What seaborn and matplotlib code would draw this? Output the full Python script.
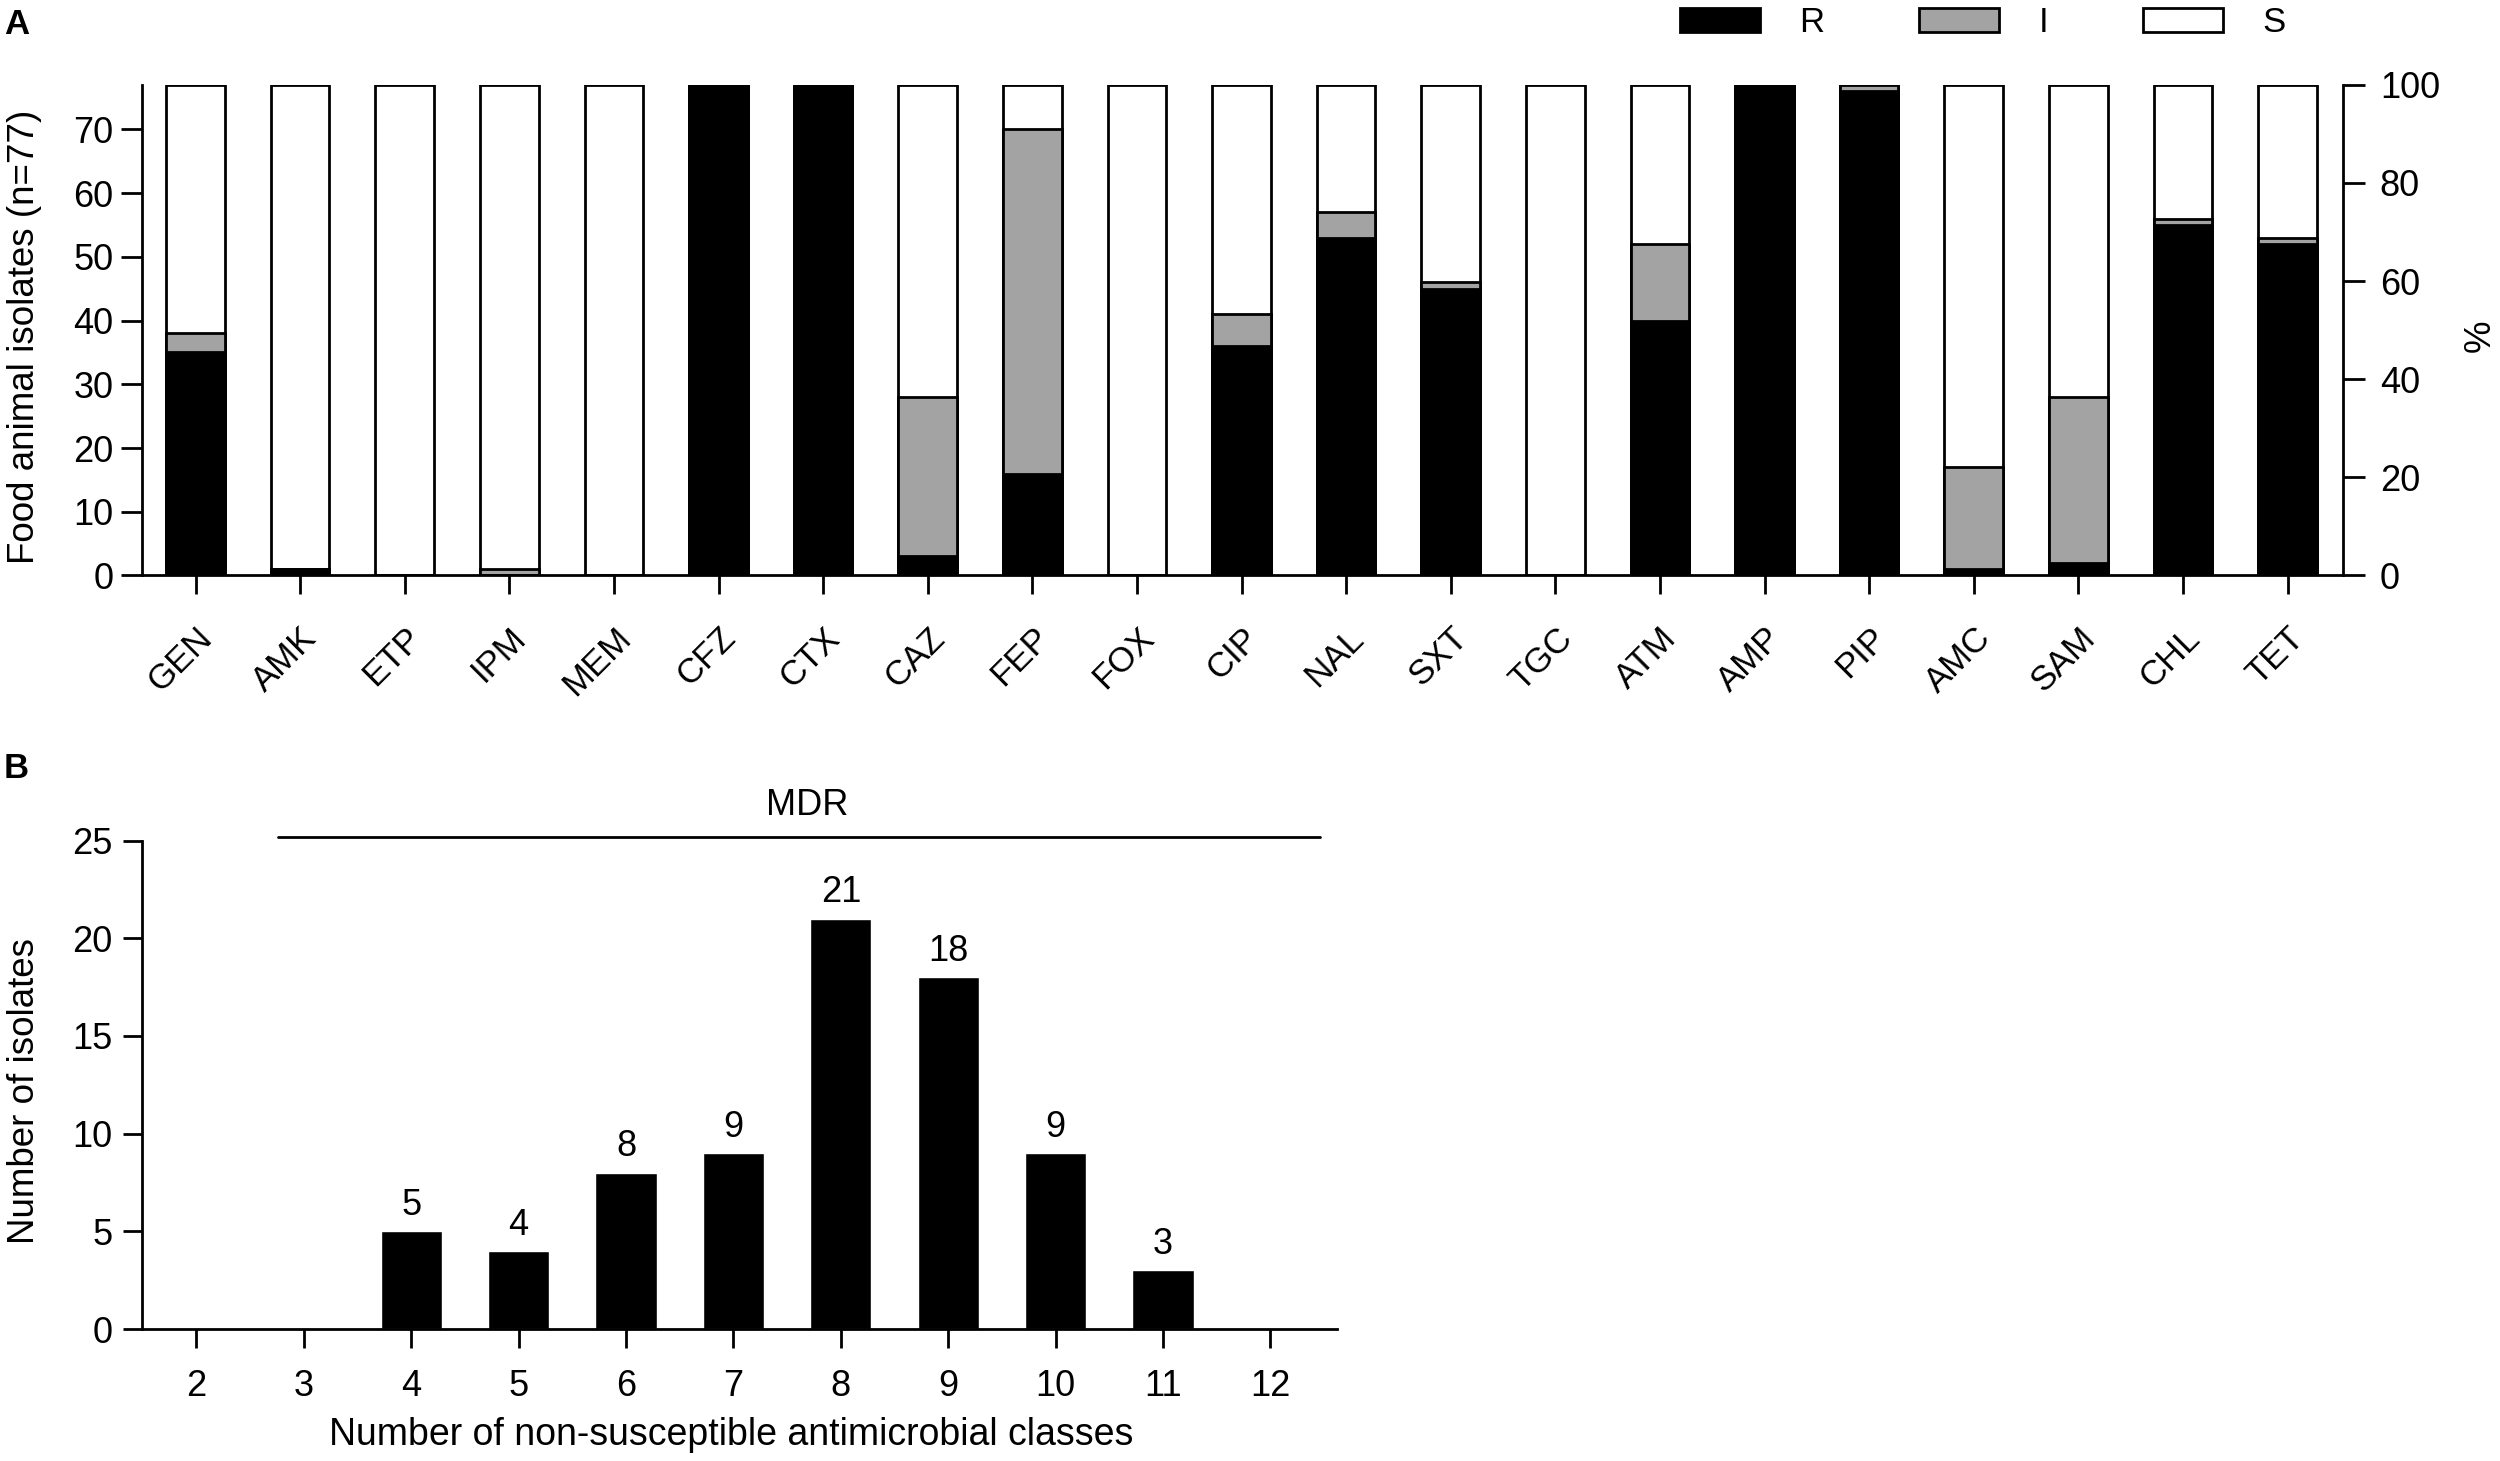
import matplotlib
matplotlib.use('Agg')
import pandas as pd
import matplotlib.pyplot as plt
from matplotlib.patches import Patch
import seaborn as sns

# panel A: isolates per drug (n=77), resistant / intermediate / susceptible
drugs = ['GEN', 'AMK', 'ETP', 'IPM', 'MEM', 'CFZ', 'CTX', 'CAZ', 'FEP', 'FOX', 'CIP',
         'NAL', 'SXT', 'TGC', 'ATM', 'AMP', 'PIP', 'AMC', 'SAM', 'CHL', 'TET']
resistant = [35, 1, 0, 0, 0, 77, 77, 3, 16, 0, 36, 53, 45, 0, 40, 77, 76, 1, 2, 55, 52]
intermediate = [3, 0, 0, 1, 0, 0, 0, 25, 54, 0, 5, 4, 1, 0, 12, 0, 1, 16, 26, 1, 1]
susceptible = [39, 76, 77, 76, 77, 0, 0, 49, 7, 77, 36, 20, 31, 77, 25, 0, 0, 60, 49, 21, 24]
n_isolates = 77

# panel B: distribution of non-susceptible classes
classes = ['2', '3', '4', '5', '6', '7', '8', '9', '10', '11', '12']
isolates = [0, 0, 5, 4, 8, 9, 21, 18, 9, 3, 0]

GREY = '#a3a3a3'
TICK_FS = 26

sns.set_style('ticks', {'axes.edgecolor': 'black', 'xtick.color': 'black',
                        'ytick.color': 'black', 'text.color': 'black',
                        'axes.labelcolor': 'black'})
plt.rcParams['font.family'] = ['Liberation Sans', 'DejaVu Sans']
plt.rcParams['axes.linewidth'] = 2

fig = plt.figure(figsize=(25, 14.61), dpi=100)

# ---- A ----
ax = fig.add_axes([0.0568, 0.6061, 0.8804, 0.3359])
df = pd.DataFrame({'drug': drugs, 'R': resistant, 'I': intermediate, 'S': susceptible})
df['RI'] = df['R'] + df['I']
df['RIS'] = df['RI'] + df['S']

# stacked look: full bar first, then R+I, then R on top
bar_kw = dict(x='drug', width=0.56, saturation=1, edgecolor='black',
              linewidth=2, errorbar=None, ax=ax)
sns.barplot(data=df, y='RIS', color='white', **bar_kw)
sns.barplot(data=df, y='RI', color=GREY, **bar_kw)
sns.barplot(data=df, y='R', color='black', **bar_kw)

ax.set_xlim(-0.512, 20.53)
ax.set_ylim(0, n_isolates)
ax.set_yticks(range(0, 71, 10))
ax.set_xlabel('')
ax.set_ylabel('Food animal isolates (n=77)', fontsize=26.5, va='center')
ax.yaxis.set_label_coords(-0.0532, 0.486)
sns.despine(ax=ax)
ax.tick_params(axis='y', length=15, width=2, labelsize=TICK_FS, pad=5.5)
ax.tick_params(axis='x', length=14, width=2, labelsize=TICK_FS - 1, pad=19)
plt.setp(ax.get_xticklabels(), rotation=45, ha='right', rotation_mode='anchor')

ax2 = ax.twinx()
ax2.set_ylim(0, 100)
ax2.set_yticks(range(0, 101, 20))
for s in ['top', 'left', 'bottom']:
    ax2.spines[s].set_visible(False)
ax2.tick_params(axis='y', length=16, width=2, labelsize=TICK_FS, pad=10.5)
ax2.set_ylabel('%', fontsize=26.5, va='center')
ax2.yaxis.set_label_coords(1.0623, 0.488)

handles = [Patch(facecolor='black', edgecolor='black', lw=2, label='R'),
           Patch(facecolor=GREY, edgecolor='black', lw=2, label='I'),
           Patch(facecolor='white', edgecolor='black', lw=2, label='S')]
fig.legend(handles=handles, loc='center left', bbox_to_anchor=(0.672, 0.9846),
           ncol=3, frameon=False, fontsize=25, handlelength=2.29, handleheight=0.66,
           handletextpad=1.14, columnspacing=2.74, borderpad=0, borderaxespad=0)

# ---- B ----
axb = fig.add_axes([0.0568, 0.0903, 0.478, 0.3344])
sns.barplot(x=classes, y=isolates, color='black', width=0.57, saturation=1,
            errorbar=None, ax=axb)
axb.set_xlim(-0.507, 10.62)
axb.set_ylim(0, 25)
axb.set_yticks(range(0, 26, 5))
sns.despine(ax=axb)
axb.bar_label(axb.containers[0], labels=[str(v) if v else '' for v in isolates],
              padding=6, fontsize=TICK_FS)

# MDR bracket over classes 3..12
axb.plot([0.76, 10.46], [25.2, 25.2], color='black', lw=2, clip_on=False)
axb.text(5.69, 26.8, 'MDR', ha='center', va='center', fontsize=TICK_FS)

axb.set_xlabel('Number of non-susceptible antimicrobial classes', fontsize=27, va='center')
axb.xaxis.set_label_coords(0.493, -0.217)
axb.set_ylabel('Number of isolates', fontsize=26.5, va='center')
axb.yaxis.set_label_coords(-0.0983, 0.487)
axb.tick_params(axis='y', length=14, width=2, labelsize=TICK_FS, pad=7)
axb.tick_params(axis='x', length=14, width=2, labelsize=TICK_FS, pad=15)

fig.text(0.0016, 0.9945, 'A', fontsize=25, fontweight='bold', va='top', ha='left')
fig.text(0.0016, 0.4853, 'B', fontsize=25, fontweight='bold', va='top', ha='left')

fig.savefig('out.png', dpi=100)
